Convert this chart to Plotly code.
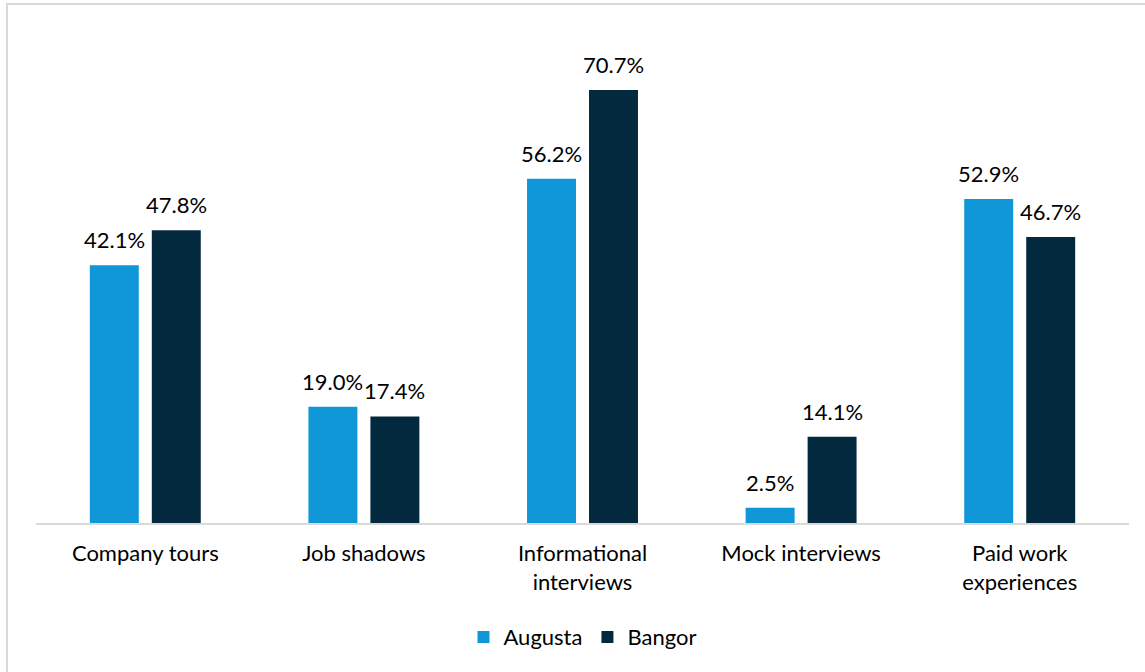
import plotly.graph_objects as go

categories = ["Company tours", "Job shadows", "Informational<br>interviews",
              "Mock interviews", "Paid work<br>experiences"]
augusta = [42.1, 19.0, 56.2, 2.5, 52.9]
bangor = [47.8, 17.4, 70.7, 14.1, 46.7]

AUGUSTA_COLOR = "#1097D8"
BANGOR_COLOR = "#03293F"
FONT = "Lato, 'Open Sans', sans-serif"
FS = 22

W, H = 1145, 672
ML, MR, MT, MB = 36, 16, 33, 149

fig = go.Figure()
for name, vals, color in [("Augusta", augusta, AUGUSTA_COLOR),
                          ("Bangor", bangor, BANGOR_COLOR)]:
    fig.add_trace(go.Bar(
        name=name, x=categories, y=vals, marker_color=color,
        marker_line_width=0, cliponaxis=False,
    ))

# value labels above each bar
for offset, vals in [(-31, augusta), (31, bangor)]:
    for cat, v in zip(categories, vals):
        fig.add_annotation(x=cat, y=v, text=f"{v:.1f}%", showarrow=False,
                           xshift=offset, yshift=10, yanchor="bottom",
                           font=dict(family=FONT, size=FS, color="#000000"))

pw = W - ML - MR
ph = H - MT - MB
# light grey frame around the whole chart
fig.add_shape(type="rect", xref="paper", yref="paper",
              x0=(7 - ML) / pw, x1=(W + 10 - ML) / pw,
              y0=(H - MB - (H + 10)) / ph, y1=(H - MB - 4) / ph,
              line=dict(color="#D9D9D9", width=2), fillcolor="rgba(0,0,0,0)",
              layer="below")

fig.update_layout(
    width=W, height=H,
    margin=dict(l=ML, r=MR, t=MT, b=MB),
    paper_bgcolor="white", plot_bgcolor="white",
    barmode="group", bargap=0.433, bargroupgap=0.21,
    font=dict(family=FONT, size=FS, color="#000000"),
    showlegend=True,
    legend=dict(orientation="h", x=0.5, xanchor="center", y=-0.19, yanchor="top",
                font=dict(family=FONT, size=FS), itemwidth=30, traceorder="normal"),
    xaxis=dict(showline=True, linecolor="#D9D9D9", linewidth=2, ticks="",
               ticklabelstandoff=10,
               tickfont=dict(family=FONT, size=FS), showgrid=False),
    yaxis=dict(range=[0, 80], visible=False, showgrid=False),
)

fig.write_html("out.html")
